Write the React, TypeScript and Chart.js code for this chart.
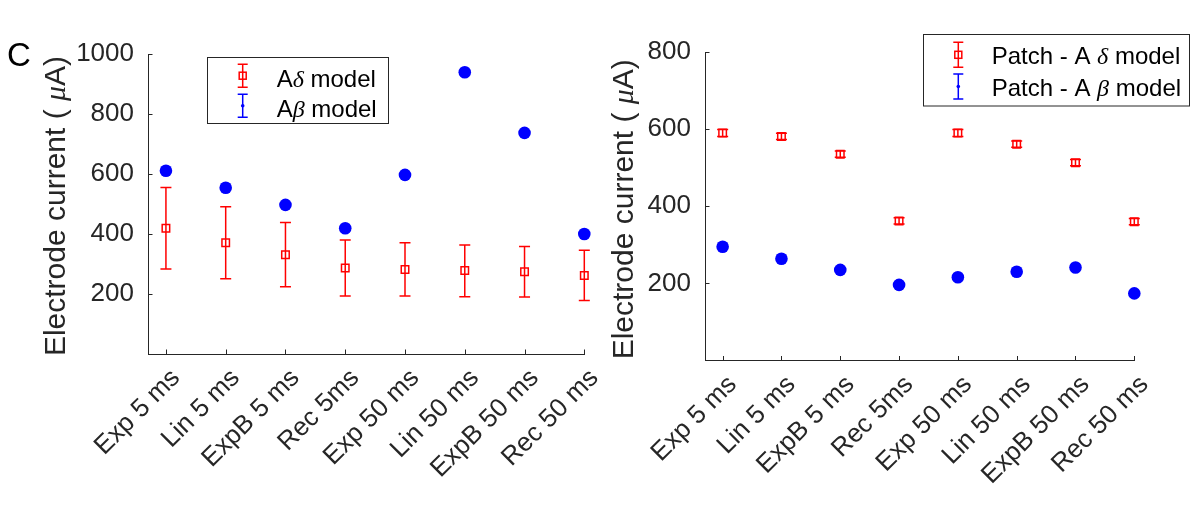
import React, { useEffect, useRef } from "react";
import { Chart, registerables } from "chart.js";

Chart.register(...registerables);

// ---------- data ----------
const categories = [
  "Exp 5 ms",
  "Lin 5 ms",
  "ExpB 5 ms",
  "Rec 5ms",
  "Exp 50 ms",
  "Lin 50 ms",
  "ExpB 50 ms",
  "Rec 50 ms",
];

// left panel
const leftDeltaLabel = "Aδ model";
const leftBetaLabel = "Aβ model";
const leftDeltaMean = [419, 371, 331, 287, 282, 278, 274, 262];
const leftDeltaUpper = [555, 491, 438, 380, 371, 363, 358, 346];
const leftDeltaLower = [283, 251, 224, 193, 193, 191, 190, 178];
const leftBetaMean = [611, 554, 497, 419, 597, 939, 737, 400];
const leftYTicks = [200, 400, 600, 800, 1000];

// right panel
const rightDeltaLabel = "Patch - A δ model";
const rightBetaLabel = "Patch - A β model";
const rightDeltaMean = [590, 581, 535, 362, 590, 561, 513, 360];
const rightDeltaErr = [9, 8, 8, 8, 9, 8, 8, 8];
const rightBetaMean = [295, 264, 235, 196, 216, 230, 241, 174];
const rightYTicks = [200, 400, 600, 800];

const yTitle = "Electrode current ( μA)";
const panelLetter = "C";

// ---------- style ----------
const FONT = '"Liberation Sans", Arial, Helvetica, sans-serif';
const GREEK = '"Liberation Serif", "Times New Roman", serif';
const AXIS = "#262626";
const RED = "#ff0000";
const BLUE = "#0000ff";

type Seg = { text: string; greek: boolean };

function splitGreek(s: string): Seg[] {
  return s
    .split(/([δβμ])/)
    .filter((t) => t.length > 0)
    .map((t) => ({ text: t, greek: /^[δβμ]$/.test(t) }));
}

function segFont(seg: Seg, size: number) {
  return seg.greek ? `italic ${size}px ${GREEK}` : `${size}px ${FONT}`;
}

function drawSegs(
  ctx: CanvasRenderingContext2D,
  segs: Seg[],
  size: number,
  x: number,
  y: number,
  align: "left" | "center"
) {
  const widths = segs.map((s) => {
    ctx.font = segFont(s, size);
    return ctx.measureText(s.text).width;
  });
  const total = widths.reduce((a, b) => a + b, 0);
  let cx = align === "center" ? x - total / 2 : x;
  ctx.textAlign = "left";
  ctx.textBaseline = "alphabetic";
  segs.forEach((s, i) => {
    ctx.font = segFont(s, size);
    ctx.fillText(s.text, cx, y);
    cx += widths[i];
  });
}

const errorBarPlugin = {
  id: "errorBars",
  beforeDatasetDraw(chart: any, args: any) {
    const ds = chart.data.datasets[args.index];
    if (!ds.errLow) return;
    const xs = chart.scales.x;
    const ys = chart.scales.y;
    const ctx = chart.ctx as CanvasRenderingContext2D;
    const cap = 5.5;
    ctx.save();
    ctx.strokeStyle = ds.borderColor;
    ctx.lineWidth = 1.5;
    ds.data.forEach((p: any, i: number) => {
      const px = xs.getPixelForValue(p.x);
      const top = ys.getPixelForValue(ds.errHigh[i]);
      const bot = ys.getPixelForValue(ds.errLow[i]);
      ctx.beginPath();
      ctx.moveTo(px, top);
      ctx.lineTo(px, bot);
      ctx.moveTo(px - cap, top);
      ctx.lineTo(px + cap, top);
      ctx.moveTo(px - cap, bot);
      ctx.lineTo(px + cap, bot);
      ctx.stroke();
    });
    ctx.restore();
  },
};

const decoPlugin = {
  id: "deco",
  beforeDatasetsDraw(chart: any) {
    // inward tick marks (MATLAB style)
    const { ctx, chartArea } = chart;
    const xs = chart.scales.x;
    const ys = chart.scales.y;
    ctx.save();
    ctx.strokeStyle = AXIS;
    ctx.lineWidth = 1;
    ctx.beginPath();
    xs.ticks.forEach((t: any) => {
      const px = Math.round(xs.getPixelForValue(t.value)) + 0.5;
      ctx.moveTo(px, chartArea.bottom);
      ctx.lineTo(px, chartArea.bottom - 4.5);
    });
    ys.ticks.forEach((t: any) => {
      const py = Math.round(ys.getPixelForValue(t.value)) + 0.5;
      ctx.moveTo(chartArea.left, py);
      ctx.lineTo(chartArea.left + 4.5, py);
    });
    ctx.stroke();
    ctx.restore();
  },
  afterDraw(chart: any, _args: any, opts: any) {
    const ctx = chart.ctx as CanvasRenderingContext2D;
    const { chartArea } = chart;
    ctx.save();
    // y axis title
    ctx.fillStyle = AXIS;
    ctx.translate(opts.titleX, (chartArea.top + chartArea.bottom) / 2 + opts.titleDy);
    ctx.rotate(-Math.PI / 2);
    drawSegs(ctx, splitGreek(yTitle), opts.titleSize, 0, 0, "center");
    ctx.restore();

    // panel letter
    if (opts.letter) {
      ctx.save();
      ctx.fillStyle = "#000";
      ctx.font = `${opts.letter.size}px ${FONT}`;
      ctx.textAlign = "center";
      ctx.textBaseline = "alphabetic";
      ctx.fillText(opts.letter.text, opts.letter.x, opts.letter.y);
      ctx.restore();
    }

    // legend
    const lg = opts.legend;
    if (lg) {
      ctx.save();
      const [x1, y1, x2, y2] = lg.box;
      ctx.fillStyle = "#ffffff";
      ctx.fillRect(x1, y1, x2 - x1, y2 - y1);
      ctx.strokeStyle = AXIS;
      ctx.lineWidth = 1;
      ctx.strokeRect(x1, y1, x2 - x1, y2 - y1);
      chart.data.datasets.forEach((ds: any, i: number) => {
        const base = lg.baselines[i];
        const cy = base - lg.iconLift;
        const ix = lg.iconX;
        const col = ds.borderColor;
        ctx.strokeStyle = col;
        ctx.lineWidth = 1.5;
        ctx.beginPath();
        ctx.moveTo(ix, cy - lg.iconHalf);
        ctx.lineTo(ix, cy + lg.iconHalf);
        ctx.moveTo(ix - 5, cy - lg.iconHalf);
        ctx.lineTo(ix + 5, cy - lg.iconHalf);
        ctx.moveTo(ix - 5, cy + lg.iconHalf);
        ctx.lineTo(ix + 5, cy + lg.iconHalf);
        ctx.stroke();
        if (ds.pointStyle === "rect") {
          ctx.strokeRect(ix - 3.5, cy - 3.5, 7, 7);
        } else {
          ctx.fillStyle = col;
          ctx.beginPath();
          ctx.arc(ix, cy, 1.8, 0, Math.PI * 2);
          ctx.fill();
        }
        ctx.fillStyle = "#000";
        drawSegs(ctx, splitGreek(ds.label), lg.size, lg.textX, base, "left");
      });
      ctx.restore();
    }
  },
};

function pts(values: number[]) {
  return values.map((v, i) => ({ x: i + 1, y: v }));
}

function makeConfig(p: any): any {
  return {
    type: "scatter",
    data: {
      datasets: [
        {
          label: p.deltaLabel,
          data: pts(p.deltaMean),
          pointStyle: "rect",
          pointRadius: 5.3,
          pointHoverRadius: 5.3,
          borderColor: RED,
          backgroundColor: "rgba(0,0,0,0)",
          borderWidth: 1.5,
          clip: false,
          errLow: p.deltaLow,
          errHigh: p.deltaHigh,
        },
        {
          label: p.betaLabel,
          data: pts(p.betaMean),
          pointStyle: "circle",
          pointRadius: 6.3,
          pointHoverRadius: 6.3,
          borderColor: BLUE,
          backgroundColor: BLUE,
          borderWidth: 0,
          clip: false,
        },
      ],
    },
    options: {
      animation: false,
      responsive: false,
      maintainAspectRatio: false,
      devicePixelRatio: 1,
      events: [],
      layout: { padding: { left: 0, top: p.padTop, right: p.padRight, bottom: 0 } },
      scales: {
        x: {
          type: "linear",
          min: 0.7,
          max: 8,
          afterBuildTicks: (s: any) => {
            s.ticks = categories.map((_, i) => ({ value: i + 1 }));
          },
          afterFit: (s: any) => {
            s.height = p.xHeight;
            s.paddingLeft = 0;
            s.paddingRight = 0;
          },
          ticks: {
            autoSkip: false,
            minRotation: 45,
            maxRotation: 45,
            padding: 9,
            labelOffset: 10,
            color: AXIS,
            font: { family: FONT, size: 26 },
            callback: (v: number) => categories[Math.round(v) - 1] ?? "",
          },
          grid: { display: false, drawTicks: false },
          border: { display: true, color: AXIS, width: 1 },
        },
        y: {
          type: "linear",
          min: 0,
          max: p.yMax,
          afterBuildTicks: (s: any) => {
            s.ticks = p.yTicks.map((v: number) => ({ value: v }));
          },
          afterFit: (s: any) => {
            s.width = p.yWidth;
          },
          ticks: {
            padding: 14,
            color: AXIS,
            font: { family: FONT, size: 26 },
            callback: (v: number) => String(v),
          },
          grid: { display: false, drawTicks: false },
          border: { display: true, color: AXIS, width: 1 },
        },
      },
      plugins: {
        legend: { display: false },
        tooltip: { enabled: false },
        deco: {
          titleX: p.titleX,
          titleDy: p.titleDy,
          titleSize: 30,
          letter: p.letter,
          legend: p.legend,
        },
      },
    },
    plugins: [errorBarPlugin, decoPlugin],
  };
}

export default function App() {
  const leftRef = useRef<HTMLCanvasElement>(null);
  const rightRef = useRef<HTMLCanvasElement>(null);

  useEffect(() => {
    const left = new Chart(
      leftRef.current as HTMLCanvasElement,
      makeConfig({
        deltaLabel: leftDeltaLabel,
        betaLabel: leftBetaLabel,
        deltaMean: leftDeltaMean,
        deltaLow: leftDeltaLower,
        deltaHigh: leftDeltaUpper,
        betaMean: leftBetaMean,
        yMax: 1000,
        yTicks: leftYTicks,
        padTop: 54,
        padRight: 15.7,
        yWidth: 148,
        xHeight: 154,
        titleX: 65,
        titleDy: 2,
        letter: { text: panelLetter, size: 33, x: 19, y: 66 },
        legend: {
          box: [207.5, 57.5, 388.5, 123.5],
          iconX: 242.7,
          textX: 276.7,
          baselines: [86.7, 116.7],
          iconLift: 11,
          iconHalf: 11.5,
          size: 24,
        },
      })
    );
    const right = new Chart(
      rightRef.current as HTMLCanvasElement,
      makeConfig({
        deltaLabel: rightDeltaLabel,
        betaLabel: rightBetaLabel,
        deltaMean: rightDeltaMean,
        deltaLow: rightDeltaMean.map((v, i) => v - rightDeltaErr[i]),
        deltaHigh: rightDeltaMean.map((v, i) => v + rightDeltaErr[i]),
        betaMean: rightBetaMean,
        yMax: 800,
        yTicks: rightYTicks,
        padTop: 52,
        padRight: 56.7,
        yWidth: 105,
        xHeight: 147.5,
        titleX: 33,
        titleDy: 3,
        letter: null,
        legend: {
          box: [323.5, 34.5, 589.5, 106],
          iconX: 358.3,
          textX: 391.7,
          baselines: [64.3, 96],
          iconLift: 9.5,
          iconHalf: 12.5,
          size: 24,
        },
      })
    );
    return () => {
      left.destroy();
      right.destroy();
    };
  }, []);

  return (
    <div
      style={{
        position: "absolute",
        left: 0,
        top: 0,
        width: 1191,
        height: 508,
        background: "#ffffff",
      }}
    >
      <canvas
        ref={leftRef}
        width={600}
        height={508}
        style={{ position: "absolute", left: 0, top: 0 }}
      />
      <canvas
        ref={rightRef}
        width={591}
        height={508}
        style={{ position: "absolute", left: 600, top: 0 }}
      />
    </div>
  );
}
